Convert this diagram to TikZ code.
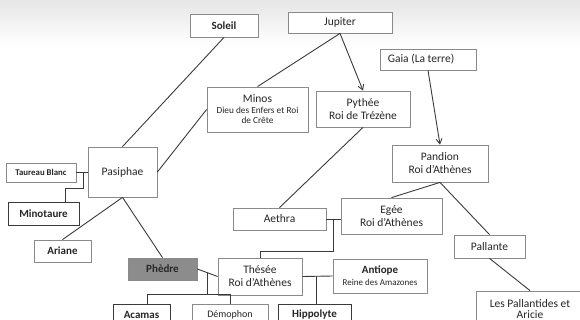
\documentclass[tikz,border=0pt]{standalone}
\usepackage{fontspec}
\setmainfont{Carlito}
\usetikzlibrary{calc,arrows.meta}
\definecolor{boxline}{HTML}{8A8A8A}
\definecolor{darkline}{HTML}{3A3A3A}
\definecolor{phfill}{HTML}{8C8C8C}
\tikzset{
  box/.style={draw=boxline, line width=0.8pt, fill=white, inner sep=1pt, align=center, font=\fontsize{11.5}{13}\selectfont, text=black!85},
  dbox/.style={box, draw=darkline, line width=1pt},
  link/.style={draw=darkline, line width=0.9pt},
  arr/.style={link, -{Straight Barb[length=5pt,width=6pt]}},
  bf/.style={font=\fontsize{11}{13}\selectfont\bfseries},
}
\begin{document}
\begin{tikzpicture}[x=1pt,y=-1pt]
\useasboundingbox (0,0) rectangle (580,320);
\clip (0,0) rectangle (580,320);
\shade[top color=black!10, bottom color=white] (0,0) rectangle (580,45);
% nodes
\node[box, bf, minimum width=68, minimum height=23] (soleil) at (224,25.5) {Soleil};
\node[box, minimum width=104, minimum height=21] (jupiter) at (340,22.5) {Jupiter};
\node[box, minimum width=101, minimum height=45] (minos) at (257.5,109.5) {Minos\\[-2pt]\fontsize{9.3}{11}\selectfont Dieu des Enfers et Roi\\[-3pt]\fontsize{9.3}{11}\selectfont de Crête};
\node[box, minimum width=94, minimum height=36] (pythee) at (363,109) {Pythée\\Roi de Trézène};
\node[box, minimum width=96, minimum height=21] (gaia) at (428,59.5) {};
\node[anchor=west, inner sep=0pt, font=\fontsize{11.5}{13}\selectfont, text=black!85] (gaiatxt) at ([xshift=8pt]gaia.west) {Gaia (La terre)};
\node[box, minimum width=96, minimum height=37] (pandion) at (440,163.5) {Pandion\\Roi d’Athènes};
\node[box, minimum width=69, minimum height=50] (pasiphae) at (122.5,172) {Pasiphae};
\node[box, minimum width=70, minimum height=19, font=\fontsize{8.8}{10}\selectfont\bfseries] (taureau) at (41,172.5) {Taureau Blanc};
\node[dbox, bf, minimum width=71, minimum height=22] (minotaure) at (43.5,214) {Minotaure};
\node[box, bf, minimum width=57, minimum height=22] (ariane) at (62.5,251) {Ariane};
\node[box, bf, draw=boxline, fill=phfill, minimum width=69, minimum height=22] (phedre) at (162.5,269) {Phèdre};
\node[box, minimum width=84, minimum height=37] (thesee) at (260,276.5) {Thésée\\Roi d’Athènes};
\node[box, minimum width=93, minimum height=22] (aethra) at (279.5,219) {Aethra};
\node[box, minimum width=101, minimum height=36] (egee) at (391.5,216) {Egée\\Roi d’Athènes};
\node[box, minimum width=71, minimum height=23] (pallante) at (489.5,246.5) {Pallante};
\node[box, minimum width=94, minimum height=34] (antiope) at (380,276) {\fontsize{11}{12}\selectfont\bfseries Antiope\\[-1pt]\fontsize{9}{10}\selectfont\mdseries Reine des Amazones};
\node[box, minimum width=108, minimum height=36] (pallantides) at (530,309) {Les Pallantides et\\[-2pt]Aricie};
\node[dbox, bf, minimum width=57, minimum height=22] (acamas) at (141.5,315) {Acamas};
\node[box, minimum width=76, minimum height=22, font=\fontsize{10}{11}\selectfont] (demophon) at (230,315) {Démophon};
\node[dbox, bf, minimum width=73, minimum height=22] (hippolyte) at (314.5,315) {Hippolyte};
% connectors
\draw[link] (soleil.south) -- (pasiphae.north);
\draw[link] (jupiter.south) -- (minos.north);
\draw[arr] (jupiter.south) -- (pythee.north);
\draw[arr] (gaia.south) -- (pandion.north);
\draw[link] (minos.west) -- (pasiphae.east);
\draw[link] (pythee.south) -- (aethra.north);
\draw[link] (pandion.south) -- (egee.north);
\draw[link] (pandion.south) -- (pallante.north);
\draw[link] (pallante.south) -- (pallantides.north);
\draw[link] (pasiphae.south) -- (ariane.north);
\draw[link] (pasiphae.south) -- (phedre.north);
\draw[link] (taureau.east) -- (taureau.east -| pasiphae.west);
\coordinate (tj) at ($(taureau.east)!0.6!(taureau.east -| pasiphae.west)$);
\draw[link] ([xshift=21.5pt]minotaure.north) |- ([yshift=-15.5pt]tj) -- (tj);
\draw[link] (aethra.east) -- (aethra.east -| egee.west);
\coordinate (ae) at ($(aethra.east)!0.5!(aethra.east -| egee.west)$);
\draw[link] (ae) |- ([yshift=6pt]thesee.north) -- (thesee.north);
\draw[link] (phedre.east) -- (thesee.west);
\coordinate (pk) at ($(phedre.east)!0.48!(thesee.west)$);
\coordinate (cb) at ([yshift=9pt]demophon.north);
\draw[link] (pk) -- (pk |- cb);
\draw[link] ([xshift=5.5pt]acamas.north) |- (cb) -- (demophon.north);
\draw[link] (thesee.east) -- (antiope.west);
\coordinate (ta) at ($(thesee.east)!0.45!(antiope.west)$);
\draw[link] (ta) -- (ta |- hippolyte.north);
\end{tikzpicture}
\end{document}
